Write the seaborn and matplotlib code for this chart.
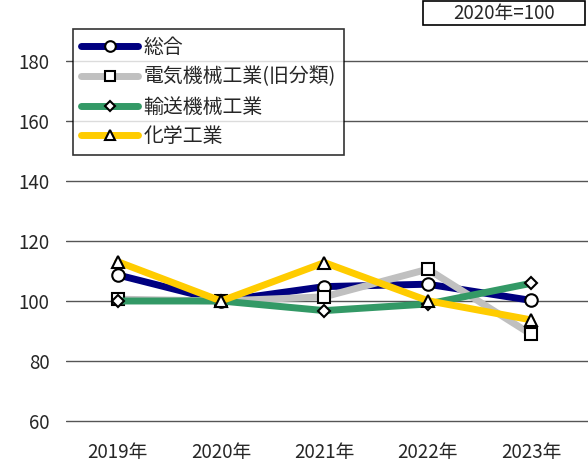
import numpy as np
import pandas as pd
import matplotlib
matplotlib.use("Agg")
import matplotlib.pyplot as plt
import matplotlib.patches as mpatches
import seaborn as sns

# data (2020 = 100)
years = ["2019年", "2020年", "2021年", "2022年", "2023年"]
total = [108.7, 100.0, 104.8, 105.6, 100.2]
electric = [100.6, 100.0, 101.4, 110.6, 88.9]
transport = [100.0, 100.0, 96.8, 99.0, 105.9]
chemical = [113.1, 100.0, 112.8, 100.1, 93.7]

series_names = ["総合", "電気機械工業(旧分類)", "輸送機械工業", "化学工業"]
series_vals = [total, electric, transport, chemical]
colors = ["#000080", "#C0C0C0", "#339966", "#FFCC00"]
markers = ["o", "s", "D", "^"]
msizes = [9, 9, 6.5, 9]

sns.set_style("white")
plt.rcParams["font.family"] = ["Noto Sans CJK JP", "DejaVu Sans"]

rows = []
for name, vals in zip(series_names, series_vals):
    for y, v in zip(years, vals):
        rows.append({"year": y, "value": v, "series": name})
df = pd.DataFrame(rows)

fig = plt.figure(figsize=(5.88, 4.65), dpi=100)
# axes spans 58..200, bottom gridline (60) at ~421px
ax = fig.add_axes([66 / 588, 38 / 465, 522 / 588, 426 / 465])

for name, c, m, ms in zip(series_names, colors, markers, msizes):
    sub = df[df["series"] == name]
    sns.lineplot(data=sub, x="year", y="value", ax=ax, color=c, lw=5,
                 marker=m, markersize=ms, markerfacecolor="white",
                 markeredgecolor="black", markeredgewidth=1.5, label=name,
                 sort=False)

ax.set_xlim(-0.5, 4.55)
ax.set_ylim(58, 200)
ax.set_yticks(range(60, 181, 20))
ax.yaxis.grid(True, color="#555555", lw=1)
ax.set_axisbelow(True)
for s in ax.spines.values():
    s.set_visible(False)
ax.set_xlabel("")
ax.set_ylabel("")
ax.tick_params(axis="y", length=0, labelsize=13.5, pad=12)
ax.tick_params(axis="x", length=0, labelsize=13.5, pad=11)

leg = ax.legend(loc="upper left", bbox_to_anchor=(0.013, 0.935), fontsize=14.3,
                frameon=True, fancybox=False, edgecolor="black",
                handlelength=2.9, handletextpad=0.25, labelspacing=0.45,
                borderpad=0.4, borderaxespad=0, markerscale=0.85)
leg.get_frame().set_linewidth(1.2)

# "2020年=100" note box at the top right
fig.patches.append(mpatches.Rectangle((423 / 588, 1 - 25 / 465), 162 / 588, 24 / 465,
                                      transform=fig.transFigure, fc="white",
                                      ec="black", lw=1.2))
fig.text(504 / 588, 1 - 13 / 465, "2020年=100", ha="center", va="center",
         fontsize=13.5)

fig.savefig("out.png", dpi=100)
